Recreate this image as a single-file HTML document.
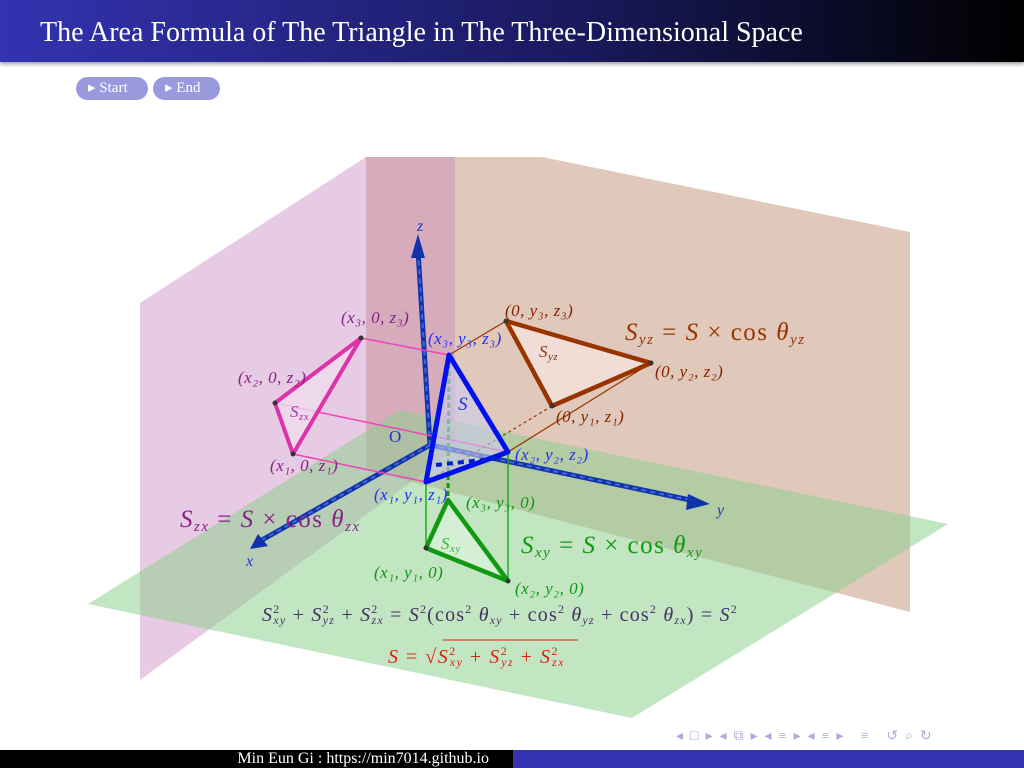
<!DOCTYPE html>
<html><head><meta charset="utf-8"><style>
html,body{margin:0;padding:0;width:1024px;height:768px;overflow:hidden;background:#fff;font-family:"Liberation Serif",serif}
.hdr{position:absolute;left:0;top:0;width:1024px;height:62px;background:linear-gradient(90deg,#3333b2 0%,#1a1a60 55%,#000 100%);box-shadow:0 2px 4px rgba(0,0,0,.4)}
.hdr span{position:absolute;left:40px;top:17px;color:#fff;font-size:28px}
.btn{position:absolute;top:77px;height:23px;border-radius:12px;background:#9999dd;color:#fff;font-size:15px;line-height:23px;padding:0 0 0 12px}
.foot1{position:absolute;left:0;top:750px;width:513px;height:18px;background:#000;color:#fff;font-size:16px;line-height:18px;text-align:right}
.foot2{position:absolute;left:513px;top:750px;width:511px;height:18px;background:#3333b2}
svg{position:absolute;left:0;top:0}
</style></head><body>
<div class="hdr"><span>The Area Formula of The Triangle in The Three-Dimensional Space</span></div>
<div class="btn" style="left:76px;width:60px">▸ Start</div>
<div class="btn" style="left:153px;width:55px">▸ End</div>
<svg width="1024" height="768" font-family="Liberation Serif, serif">
<polygon points="366,157 542,157 910,232 910,612 366,470" fill="#c79a82" fill-opacity="0.55"/>
<polygon points="140,303 366,157 455,157 455,450 140,680" fill="#c98ac0" fill-opacity="0.45"/>
<polygon points="88,604 400,410 948,524 632,718" fill="#8fd08f" fill-opacity="0.55"/>
<g stroke="#1133aa" stroke-width="5" fill="none">
<line x1="430" y1="445" x2="418" y2="250"/>
<line x1="430" y1="445" x2="262" y2="540"/>
<line x1="430" y1="445" x2="690" y2="500"/>
</g>
<g stroke="#4466dd" stroke-width="2" stroke-dasharray="5,4" fill="none">
<line x1="430" y1="445" x2="418" y2="250"/>
<line x1="430" y1="445" x2="262" y2="540"/>
<line x1="430" y1="445" x2="690" y2="500"/>
</g>
<polygon points="418,234 411,258 425,258" fill="#1133aa"/>
<polygon points="250,549 258,534 268,546" fill="#1133aa"/>
<polygon points="710,504 688,494 686,510" fill="#1133aa"/>
<g fill="#2233cc" font-size="16" font-style="italic">
<text x="417" y="231">z</text>
<text x="246" y="566">x</text>
<text x="717" y="515">y</text>
</g>
<text x="389" y="442" fill="#2233cc" font-size="17">O</text>
<g stroke="#ee44bb" stroke-width="1.5">
<line x1="361" y1="338" x2="449" y2="355"/><line x1="275" y1="403" x2="508" y2="452"/><line x1="293" y1="454" x2="426" y2="482"/></g>
<g stroke="#993300" stroke-width="1.2">
<line x1="506" y1="321" x2="449" y2="355"/><line x1="651" y1="363" x2="508" y2="452"/><line x1="552" y1="406" x2="426" y2="482" stroke-dasharray="3,3"/></g>
<g stroke="#22aa22" stroke-width="1.5">
<line x1="449" y1="355" x2="448" y2="500" stroke-dasharray="5,3" stroke-width="3" stroke="#119911"/><line x1="508" y1="452" x2="508" y2="581"/><line x1="426" y1="482" x2="426" y2="548"/></g>
<polygon points="449,355 508,452 426,482" fill="#ccccee" fill-opacity="0.6" stroke="#0011ee" stroke-width="5" stroke-linejoin="round"/>
<line x1="436" y1="465" x2="500" y2="458" stroke="#0022cc" stroke-width="4" stroke-dasharray="6,5"/>
<polygon points="361,338 275,403 293,454" fill="#f0dcee" fill-opacity="0.8" stroke="#dd33aa" stroke-width="4" stroke-linejoin="round"/>
<polygon points="506,321 651,363 552,406" fill="#f2e2da" fill-opacity="0.85" stroke="#993300" stroke-width="4.5" stroke-linejoin="round"/>
<polygon points="448,500 426,548 508,581" fill="#d6f0d6" fill-opacity="0.9" stroke="#119911" stroke-width="4.5" stroke-linejoin="round"/>
<g fill="#333">
<circle cx="361" cy="338" r="2.5"/><circle cx="275" cy="403" r="2.5"/><circle cx="293" cy="454" r="2.5"/>
<circle cx="506" cy="321" r="2.5"/><circle cx="651" cy="363" r="2.5"/><circle cx="552" cy="406" r="2.5"/>
<circle cx="426" cy="548" r="2.5"/><circle cx="508" cy="581" r="2.5"/></g>
<g font-size="17" font-style="italic" letter-spacing="0.5">
<text x="341" y="323" fill="#882288">(x₃, 0, z₃)</text>
<text x="238" y="383" fill="#882288">(x₂, 0, z₂)</text>
<text x="270" y="471" fill="#882288">(x₁, 0, z₁)</text>
<text x="290" y="417" fill="#aa33aa">S<tspan font-size="11" dy="3">zx</tspan></text>
<text x="505" y="316" fill="#882200">(0, y₃, z₃)</text>
<text x="655" y="377" fill="#882200">(0, y₂, z₂)</text>
<text x="556" y="422" fill="#882200">(0, y₁, z₁)</text>
<text x="539" y="357" fill="#883311">S<tspan font-size="11" dy="3">yz</tspan></text>
<text x="428" y="344" fill="#2233ee">(x₃, y₃, z₃)</text>
<text x="515" y="460" fill="#2233ee">(x₂, y₂, z₂)</text>
<text x="374" y="500" fill="#2233ee">(x₁, y₁, z₁)</text>
<text x="458" y="410" fill="#2233ee" font-size="19">S</text>
<text x="466" y="508" fill="#119911">(x₃, y₃, 0)</text>
<text x="374" y="578" fill="#119911">(x₁, y₁, 0)</text>
<text x="515" y="594" fill="#119911">(x₂, y₂, 0)</text>
<text x="441" y="549" fill="#33bb33">S<tspan font-size="11" dy="3">xy</tspan></text>
</g>
<g font-size="25" letter-spacing="1.5">
<text x="625" y="340" fill="#993300"><tspan font-style="italic">S</tspan><tspan font-size="15" dy="4" font-style="italic">yz</tspan><tspan dy="-4"> = </tspan><tspan font-style="italic">S</tspan> × cos <tspan font-style="italic">θ</tspan><tspan font-size="15" dy="4" font-style="italic">yz</tspan></text>
<text x="180" y="527" fill="#882288"><tspan font-style="italic">S</tspan><tspan font-size="15" dy="4" font-style="italic">zx</tspan><tspan dy="-4"> = </tspan><tspan font-style="italic">S</tspan> × cos <tspan font-style="italic">θ</tspan><tspan font-size="15" dy="4" font-style="italic">zx</tspan></text>
<text x="521" y="553" fill="#119911"><tspan font-style="italic">S</tspan><tspan font-size="15" dy="4" font-style="italic">xy</tspan><tspan dy="-4"> = </tspan><tspan font-style="italic">S</tspan> × cos <tspan font-style="italic">θ</tspan><tspan font-size="15" dy="4" font-style="italic">xy</tspan></text>
</g>
<text x="262" y="621" fill="#443366" font-size="20" letter-spacing="1.2"><tspan font-style="italic">S</tspan><tspan font-size="12" dy="-8">2</tspan><tspan font-size="12" dy="11" dx="-7" font-style="italic">xy</tspan><tspan dy="-3"> + </tspan><tspan font-style="italic">S</tspan><tspan font-size="12" dy="-8">2</tspan><tspan font-size="12" dy="11" dx="-7" font-style="italic">yz</tspan><tspan dy="-3"> + </tspan><tspan font-style="italic">S</tspan><tspan font-size="12" dy="-8">2</tspan><tspan font-size="12" dy="11" dx="-7" font-style="italic">zx</tspan><tspan dy="-3"> = </tspan><tspan font-style="italic">S</tspan><tspan font-size="12" dy="-8">2</tspan><tspan dy="8">(cos</tspan><tspan font-size="12" dy="-8">2</tspan><tspan dy="8"> </tspan><tspan font-style="italic">θ</tspan><tspan font-size="12" dy="3" font-style="italic">xy</tspan><tspan dy="-3"> + cos</tspan><tspan font-size="12" dy="-8">2</tspan><tspan dy="8"> </tspan><tspan font-style="italic">θ</tspan><tspan font-size="12" dy="3" font-style="italic">yz</tspan><tspan dy="-3"> + cos</tspan><tspan font-size="12" dy="-8">2</tspan><tspan dy="8"> </tspan><tspan font-style="italic">θ</tspan><tspan font-size="12" dy="3" font-style="italic">zx</tspan><tspan dy="-3">) = </tspan><tspan font-style="italic">S</tspan><tspan font-size="12" dy="-8">2</tspan></text>
<text x="388" y="663" fill="#dd2211" font-size="20" letter-spacing="1.5"><tspan font-style="italic">S</tspan> = √<tspan font-style="italic">S</tspan><tspan font-size="12" dy="-8">2</tspan><tspan font-size="12" dy="11" dx="-7" font-style="italic">xy</tspan><tspan dy="-3"> + </tspan><tspan font-style="italic">S</tspan><tspan font-size="12" dy="-8">2</tspan><tspan font-size="12" dy="11" dx="-7" font-style="italic">yz</tspan><tspan dy="-3"> + </tspan><tspan font-style="italic">S</tspan><tspan font-size="12" dy="-8">2</tspan><tspan font-size="12" dy="11" dx="-7" font-style="italic">zx</tspan></text>
<line x1="443" y1="640" x2="578" y2="640" stroke="#dd2211" stroke-width="1"/>
<text x="676" y="740" fill="#aaaadd" font-size="14" letter-spacing="7">◂□▸◂⧉▸◂≡▸◂≡▸ ≡ ↺⌕↻</text>
</svg>
<div class="foot1"><span style="margin-right:24px">Min Eun Gi : https://min7014.github.io</span></div>
<div class="foot2"></div>
</body></html>
